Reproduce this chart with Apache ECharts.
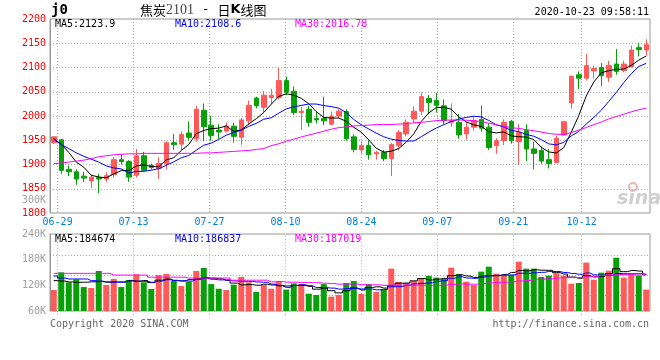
<!DOCTYPE html>
<html><head><meta charset="utf-8">
<script src="https://cdn.jsdelivr.net/npm/echarts@6/dist/echarts.min.js"></script>
<style>html,body{margin:0;padding:0;background:#fff}#c{width:660px;height:360px}</style>
</head><body><div id="c"></div>
<script>
const dates = ['06-24','06-29','06-30',
 '07-01','07-02','07-03','07-06','07-07','07-08','07-09','07-10','07-13','07-14','07-15','07-16','07-17','07-20','07-21','07-22','07-23','07-24','07-27','07-28','07-29','07-30','07-31',
 '08-03','08-04','08-05','08-06','08-07','08-10','08-11','08-12','08-13','08-14','08-17','08-18','08-19','08-20','08-21','08-24','08-25','08-26','08-27','08-28','08-31',
 '09-01','09-02','09-03','09-04','09-07','09-08','09-09','09-10','09-11','09-14','09-15','09-16','09-17','09-18','09-21','09-22','09-23','09-24','09-25','09-28','09-29','09-30',
 '10-09','10-12','10-13','10-14','10-15','10-16','10-19','10-20','10-21','10-22','10-23'];
const opens  = [1945,1951,1890,1885,1876,1866,1873,1870,1879,1910,1906,1878,1918,1898,1892,1902,1945,1942,1965,1953,
                2012,1981,1971,1969,1979,1956,1990,2037,2018,2038,2038,2073,2051,2007,2014,1995,1995,1983,2000,2009,
                1957,1930,1939,1922,1925,1912,1939,1963,1994,2010,2036,2032,2021,1987,1987,1963,1977,1993,1977,1939,
                1949,1989,1947,1970,1932,1929,1910,1904,1961,2027,2085,2078,2093,2100,2080,2107,2094,2102,2141,2136];
const closes = [1957,1888,1885,1870,1872,1874,1870,1877,1910,1906,1874,1918,1888,1894,1902,1945,1941,1962,1956,2014,
                1978,1960,1967,1979,1958,1992,2022,2021,2043,2043,2073,2049,2007,2010,1987,1992,1990,2000,2010,1953,
                1931,1939,1920,1925,1912,1941,1966,1987,2010,2040,2028,2022,1990,1990,1961,1977,1990,1975,1935,1949,
                1987,1949,1966,1932,1923,1907,1902,1954,1988,2082,2078,2104,2098,2083,2104,2092,2107,2136,2137,2147];
const lows   = [1942,1881,1876,1858,1864,1851,1841,1864,1873,1900,1864,1873,1886,1890,1870,1890,1930,1930,1949,1947,
                1948,1949,1953,1966,1945,1941,1981,2016,2007,2024,2034,2043,2002,1971,1978,1985,1981,1981,1995,1949,
                1925,1922,1910,1910,1907,1876,1929,1958,1985,2002,2004,2007,1983,1978,1953,1951,1970,1968,1930,1922,
                1940,1943,1900,1907,1890,1901,1892,1904,1959,2015,2055,2073,2077,2062,2070,2085,2090,2100,2123,2125];
const highs  = [1958,1952,1898,1890,1885,1879,1881,1884,1915,1922,1909,1932,1926,1902,1915,1948,1963,1968,1989,2021,
                2026,2000,1983,1987,1986,1996,2032,2040,2052,2056,2099,2081,2061,2019,2021,2009,2040,2009,2015,2014,
                1962,1949,1949,1928,1930,1944,1971,1993,2020,2049,2043,2048,2034,2026,2004,1987,1998,2022,1985,1954,
                1993,1992,1983,1983,1947,1937,1932,1959,1990,2083,2092,2128,2104,2109,2114,2138,2114,2145,2151,2158];
// volume in thousands
const volumes = [109,150.4,127,134,116,113.7,153.5,120.8,134.8,116,132.4,145.7,127,111.4,144,146.5,130,118.4,128.6,153.5,
                 160.5,123,112,109,121.5,139.5,127,104.4,120.8,112,130,110,124.7,123,100.5,97.4,123,93.5,97.4,125.4,
                 130,99.7,123,104.4,110.6,159,127.8,125.4,130,137,141.8,138,134.8,161.3,146.5,128.6,120.8,152,163.6,147.2,
                 144,144,175.3,159,159,139.5,142.6,148,142.6,123.9,125.4,173,133.2,149.6,154.3,184.6,138,146.5,143.4,110];
// moving-average values before enough bars exist
const ma5Head  = [1953,1942,1925,1905];
const ma10Head = [1952,1941,1933,1924,1917,1911,1905,1897,1893];
const ma30Head = [1902,1903,1905,1907,1909,1912,1916,1918,1920,1921,1922,1922,1923,1923,1923,1923,1923,1923,1923,1923,
                  1924,1924,1925,1926,1927,1928,1929,1931,1933];
const vma5Head  = [131,130,128,127];
const vma10Head = [141.8,137,134.8,134.8,134.8,131,130,128,127.5];
const vma30Head = [148,148,148,148,148,148,148,148,144,144,144,144,144,139,139,139,139,139,137,137,137,137,137,137,132,132,132,132,132];
const tickDates = ['06-29','07-13','07-27','08-10','08-24','09-07','09-21','10-12'];
const priceMin = 1800, priceMax = 2200, priceStep = 50;
const volMin = 60, volMax = 240, volStep = 60;
const maLegend = ['MA5:2123.9','MA10:2108.6','MA30:2016.78'];
const volLegend = ['MA5:184674','MA10:186837','MA30:187019'];

const RED = '#ff5a5a', GREEN = '#08a008';
const MONO = '"DejaVu Sans Mono", monospace';
function ma(arr, n, head) {
  return arr.map((_, i) => {
    if (i < n - 1) return head[i];
    let s = 0; for (let k = i - n + 1; k <= i; k++) s += arr[k];
    return +(s / n).toFixed(2);
  });
}
const isTick = (idx, val) => tickDates.indexOf(val) >= 0;
const dotted = { color: '#a8a8a8', type: [1, 2], width: 1 };

const chart = echarts.init(document.getElementById('c'), null, { renderer: 'canvas' });
const txt = (x, y, text, fill, font, align) => ({
  type: 'text', x, y, silent: true,
  style: { text, fill, font, align: align || 'left', verticalAlign: 'middle', textAlign: align || 'left', textVerticalAlign: 'middle' }
});
chart.setOption({
  animation: false,
  backgroundColor: '#fff',
  grid: [
    { left: 50, top: 19, width: 600, height: 194, show: true, borderColor: '#999', borderWidth: 1 },
    { left: 50, top: 234, width: 600, height: 77, show: true, borderColor: '#999', borderWidth: 1 },
    { left: 50, top: 235.7, width: 600, height: 80 }
  ],
  xAxis: [
    { type: 'category', gridIndex: 0, data: dates, boundaryGap: true, position: 'bottom',
      axisLine: { show: false }, axisTick: { show: false }, axisLabel: { show: false }, splitLine: { show: false } },
    { type: 'category', gridIndex: 0, data: dates, boundaryGap: false, position: 'bottom',
      axisLine: { show: false }, axisTick: { show: false, interval: isTick },
      axisLabel: { interval: isTick, color: '#0080e0', fontFamily: MONO, fontSize: 10, margin: 4 },
      splitLine: { show: true, interval: isTick, lineStyle: dotted } },
    { type: 'category', gridIndex: 1, data: dates, boundaryGap: true,
      axisLine: { show: false }, axisTick: { show: false }, axisLabel: { show: false }, splitLine: { show: false } },
    { type: 'category', gridIndex: 2, data: dates, boundaryGap: false,
      axisLine: { show: false }, axisTick: { show: false, interval: isTick }, axisLabel: { show: false, interval: isTick },
      splitLine: { show: true, interval: isTick, lineStyle: dotted } }
  ],
  yAxis: [
    { type: 'value', gridIndex: 0, min: priceMin, max: priceMax, interval: priceStep,
      axisLine: { show: true, lineStyle: { color: '#999' } }, axisTick: { show: false },
      axisLabel: { color: '#ff0000', fontFamily: MONO, fontSize: 10, margin: 4, padding: [0, 0, 5, 0], formatter: v => String(v) },
      splitLine: { show: true, lineStyle: dotted, showMinLine: false, showMaxLine: false } },
    { type: 'value', gridIndex: 1, min: volMin, max: volMax, interval: volStep,
      axisLine: { show: true, lineStyle: { color: '#999' } }, axisTick: { show: false },
      axisLabel: { color: '#a0a0a0', fontFamily: MONO, fontSize: 10, margin: 4, formatter: v => v + 'K' },
      splitLine: { show: false } },
    { type: 'value', gridIndex: 2, min: 0, max: 4, interval: 1,
      axisLine: { show: false }, axisTick: { show: false }, axisLabel: { show: false },
      splitLine: { show: true, lineStyle: dotted, showMinLine: false, showMaxLine: false } }
  ],
  series: [
    { type: 'candlestick', xAxisIndex: 0, yAxisIndex: 0, barWidth: 5,
      data: dates.map((d, i) => [opens[i], closes[i], lows[i], highs[i]]),
      itemStyle: { color: RED, color0: GREEN, borderColor: RED, borderColor0: GREEN, borderWidth: 1 } },
    { type: 'line', xAxisIndex: 0, yAxisIndex: 0, data: ma(closes, 5, ma5Head), symbol: 'none', z: 5,
      lineStyle: { color: '#000', width: 1 } },
    { type: 'line', xAxisIndex: 0, yAxisIndex: 0, data: ma(closes, 10, ma10Head), symbol: 'none', z: 5,
      lineStyle: { color: '#0000ff', width: 1 } },
    { type: 'line', xAxisIndex: 0, yAxisIndex: 0, data: ma(closes, 30, ma30Head), symbol: 'none', z: 5,
      lineStyle: { color: '#ff00ff', width: 1 } },
    { type: 'bar', xAxisIndex: 2, yAxisIndex: 1, barWidth: 6, clip: true,
      data: volumes.map((v, i) => ({ value: v, itemStyle: { color: closes[i] >= opens[i] ? RED : GREEN } })) },
    { type: 'line', xAxisIndex: 2, yAxisIndex: 1, data: ma(volumes, 5, vma5Head), symbol: 'none', step: 'middle', z: 5,
      lineStyle: { color: '#000', width: 1 } },
    { type: 'line', xAxisIndex: 2, yAxisIndex: 1, data: ma(volumes, 10, vma10Head), symbol: 'none', step: 'middle', z: 5,
      lineStyle: { color: '#0000ff', width: 1 } },
    { type: 'line', xAxisIndex: 2, yAxisIndex: 1, data: ma(volumes, 30, vma30Head), symbol: 'none', step: 'middle', z: 5,
      lineStyle: { color: '#ff00ff', width: 1 } }
  ],
  graphic: [
    txt(51, 10, 'j0', '#000', 'bold 14px ' + MONO),
    { type: 'text', x: 140, y: 10, silent: true,
      style: { text: '{a|焦炭}{b|2101}{s|\u00a0-\u00a0}{a|日}{k|K}{a|线图}', verticalAlign: 'middle', textVerticalAlign: 'middle',
        rich: {
          a: { fontFamily: '"Noto Sans CJK SC", sans-serif', fontSize: 13, fill: '#000', color: '#000' },
          s: { fontFamily: MONO, fontSize: 13, fill: '#000', color: '#000' },
          b: { fontFamily: '"Liberation Serif", serif', fontSize: 14, fill: '#444', color: '#444' },
          k: { fontFamily: '"DejaVu Sans", sans-serif', fontSize: 13, fontWeight: 'bold', fill: '#000', color: '#000' }
        } } },
    txt(649, 12, '2020-10-23 09:58:11', '#000', '10px ' + MONO, 'right'),
    txt(55, 24, maLegend[0], '#000', '10px ' + MONO),
    txt(175, 24, maLegend[1], '#0000ff', '10px ' + MONO),
    txt(295, 24, maLegend[2], '#ff00ff', '10px ' + MONO),
    txt(46, 200, '300K', '#a0a0a0', '10px ' + MONO, 'right'),
    txt(55, 239, volLegend[0], '#000', '10px ' + MONO),
    txt(175, 239, volLegend[1], '#0000ff', '10px ' + MONO),
    txt(295, 239, volLegend[2], '#ff00ff', '10px ' + MONO),
    txt(50, 324, 'Copyright 2020 SINA.COM', '#666', '10px ' + MONO),
    txt(649, 324, 'http://finance.sina.com.cn', '#666', '10px ' + MONO, 'right'),
    { type: 'circle', shape: { cx: 633, cy: 187, r: 4 }, silent: true, style: { fill: 'none', stroke: '#f0b4b4', lineWidth: 2 } },
    txt(617, 199, 'sina', '#cfcfcf', 'italic bold 19px "DejaVu Sans", sans-serif')
  ]
});
</script></body></html>
